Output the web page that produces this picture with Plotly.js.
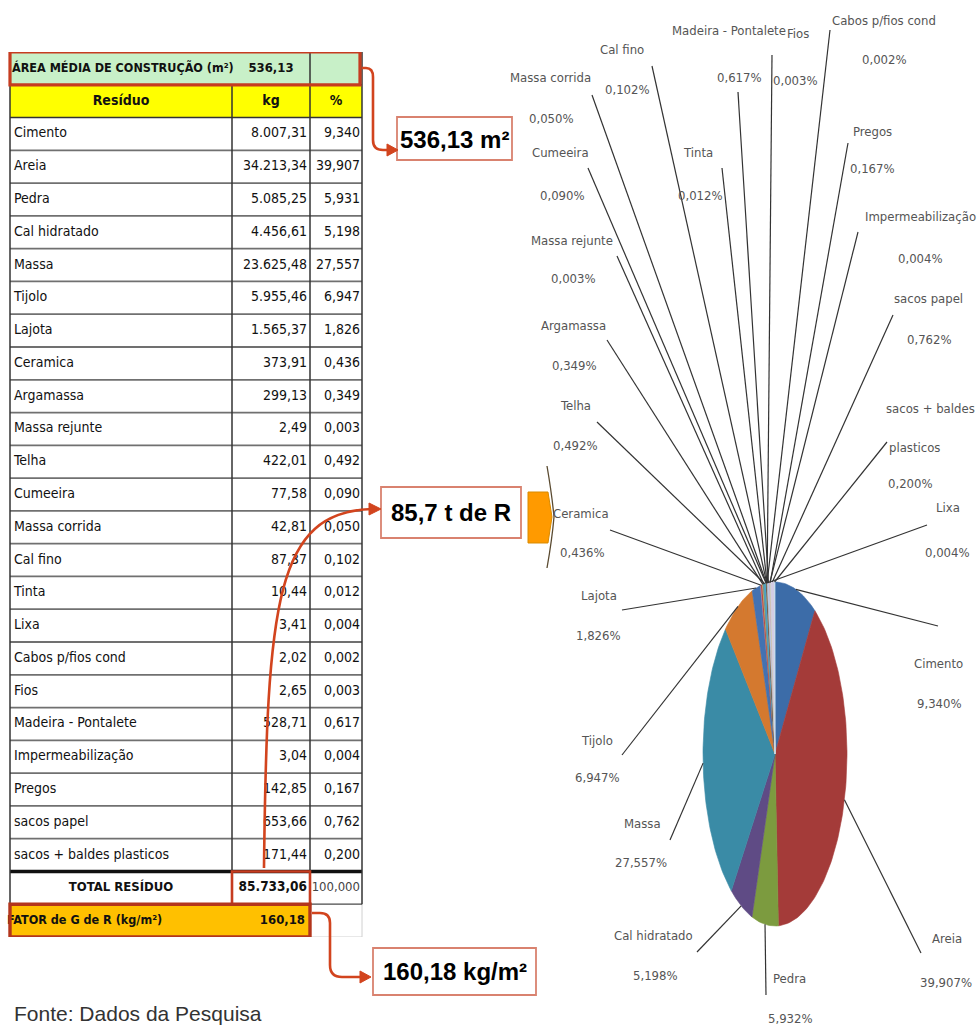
<!DOCTYPE html>
<html><head><meta charset="utf-8">
<script src="https://cdn.plot.ly/plotly-3.0.1.min.js"></script>
<style>html,body{margin:0;padding:0;background:#fff}#chart{width:977px;height:1027px}</style>
</head><body><div id="chart"></div>
<script>
// ---------------- DATA ----------------
const residuos = ['Cimento','Areia','Pedra','Cal hidratado','Massa','Tijolo','Lajota','Ceramica','Argamassa','Massa rejunte','Telha','Cumeeira','Massa corrida','Cal fino','Tinta','Lixa','Cabos p/fios cond','Fios','Madeira - Pontalete','Impermeabilização','Pregos','sacos papel','sacos + baldes plasticos'];
const kg = [8007.31,34213.34,5085.25,4456.61,23625.48,5955.46,1565.37,373.91,299.13,2.49,422.01,77.58,42.81,87.37,10.44,3.41,2.02,2.65,528.71,3.04,142.85,653.66,171.44];
const pct = [9.340,39.907,5.931,5.198,27.557,6.947,1.826,0.436,0.349,0.003,0.492,0.090,0.050,0.102,0.012,0.004,0.002,0.003,0.617,0.004,0.167,0.762,0.200];
const pieLabelPct = [9.340,39.907,5.932,5.198,27.557,6.947,1.826,0.436,0.349,0.003,0.492,0.090,0.050,0.102,0.012,0.004,0.002,0.003,0.617,0.004,0.167,0.762,0.200];
const areaMedia = 536.13;
const totalKg = 85733.06;
const totalPct = 100.000;
const fatorGR = 160.18;
const totalToneladas = 85.7;
const headers = ['Resíduo','kg','%'];

// ---------------- STYLE / LAYOUT ----------------
const W = 977, H = 1027;
const NARROW = '"DejaVu Sans Condensed", "Liberation Sans Narrow", sans-serif';
const SANS = '"Liberation Sans", Arial, sans-serif';
const sliceColors = ['#3c6ca8','#a43b39','#7c9b3f','#5f4b85','#3a8ba6','#d4792f','#4372b2','#b84a48','#94b052','#7d62a0','#4ba3c0','#e8893e','#2c4d75','#772c2a','#5f7530','#4d3b62','#276a7c','#b65708','#b9c6dd','#dca8a7','#c5d6a5','#d3cde4','#c9e3ec'];
// pie ellipse in pixels
const CX = 775, CY = 754, A = 72, B = 172;
// label layout (pixels): [nameX, nameY, pctX, pctY, leaderX, leaderY]
const labelPos = [
 [938,663, 939,703, 938,626],
 [947,938, 946,982, 921,953],
 [789,978, 790,1018, 766,995],
 [653,935, 655,975, 697,952],
 [642,823, 641,862, 670,840],
 [597,740, 597,777, 622,755],
 [599,595, 598,635, 622,610],
 [581,513, 582,552, 610,530],
 [573,325, 574,365, 607,340],
 [572,240, 573,278, 617,256],
 [575,405, 575,445, 597,422],
 [560,153, 562,195, 588,168],
 [550,78, 551,118, 592,95],
 [622,50, 627,89, 652,66],
 [698,153, 700,195, 722,168],
 [948,508, 947,552, 927,525],
 [884,21, 884,60, 830,30],
 [798,33, 795,80, 772,55],
 [729,31, 739,78, 738,92],
 [920,217, 920,258, 858,232],
 [872,132, 872,168, 848,143],
 [928,298, 929,340, 893,315],
 [930,408, 910,483, 887,442]
];
const wrapLine = {22: {at: 14, x: 914, y: 447}};

// table geometry
const TX = [10, 232, 310, 362];
const TTOP = 52, TBOT = 937, NROWS = 27;
const TFS = 14;

// ---------------- HELPERS ----------------
function fmt(v, d){ const s = v.toFixed(d); let [i,f] = s.split('.'); i = i.replace(/\B(?=(\d{3})+(?!\d))/g,'.'); return f ? i+','+f : i; }
const px = x => x / W, py = y => 1 - y / H;
const ux = x => (x - CX) / A, uy = y => (CY - y) / B;

const traces = [];
const shapes = [];
const annotations = [];

// ---------------- TABLE ----------------
const nData = residuos.length;
const rowOf = i => i + 2;
const rowTotal = nData + 2, rowFator = nData + 3;
function rect(x0,x1,r0,r1,fill,lineColor,lw,layer){
  shapes.push({type:'rect', xref:'x', yref:'y', x0:x0, x1:x1, y0:r0, y1:r1,
    fillcolor: fill || 'rgba(0,0,0,0)', line:{color: lineColor || 'rgba(0,0,0,0)', width: lw || 0}, layer: layer || 'above'});
}
function hline(r, x0, x1, color, w){ shapes.push({type:'line', xref:'x', yref:'y', x0:x0, x1:x1, y0:r, y1:r, line:{color:color, width:w}}); }
function vline(x, r0, r1, color, w){ shapes.push({type:'line', xref:'x', yref:'y', x0:x, x1:x, y0:r0, y1:r1, line:{color:color, width:w}}); }
function txt(x, y, text, pos, size, color, clip){
  traces.push({type:'scatter', mode:'text', xaxis:'x', yaxis:'y', x: x, y: y, text: text, textposition: pos,
    textfont:{family:NARROW, size:size, color:color || '#111'}, hoverinfo:'skip', showlegend:false, cliponaxis: !!clip});
}

// fills
rect(TX[0], TX[3], 0, 1, '#c8f0c8', null, 0, 'below');
rect(TX[0], TX[3], 1, 2, '#ffff00', null, 0, 'below');
rect(TX[0], TX[2], rowFator, rowFator+1, '#ffc000', null, 0, 'below');
rect(TX[2], TX[3], rowFator, rowFator+1, '#ffffff', '#d0d0d0', 1, 'below');
// horizontal lines
for (let r = 1; r <= rowTotal; r++) {
  if (r === rowTotal) hline(r, TX[0], TX[3], '#111', 3.5);
  else hline(r, TX[0], TX[3], r <= 2 ? '#333' : '#707070', r <= 2 ? 1.5 : 1.8);
}
hline(rowFator, TX[2], TX[3], '#555', 1.2);
// vertical lines
vline(TX[0], 0, rowFator+1, '#333', 1.5);
vline(TX[1], 1, rowFator, '#333', 1.5);
vline(TX[2], 0, rowFator, '#333', 1.5);
vline(TX[3], 0, rowFator, '#333', 1.5);

// texts
const nameRows = residuos.map((_, i) => rowOf(i) + 0.5);
txt(residuos.map(()=>TX[0]+4), nameRows, residuos, 'middle right', TFS);
txt(kg.map(()=>TX[2]-3), nameRows, kg.map(v => fmt(v,2)), 'middle left', TFS);
txt(pct.map(()=>TX[3]-2), nameRows, pct.map(v => fmt(v,3)), 'middle left', TFS);
txt([(TX[0]+TX[1])/2, (TX[1]+TX[2])/2, (TX[2]+TX[3])/2], [1.5,1.5,1.5], headers.map(h => '<b>'+h+'</b>'), 'middle center', 14);
txt([TX[0]+2], [0.5], ['<b>ÁREA MÉDIA DE CONSTRUÇÃO (m²)</b>'], 'middle right', 12.5);
txt([(TX[1]+TX[2])/2], [0.5], ['<b>'+fmt(areaMedia,2)+'</b>'], 'middle center', 13);
txt([(TX[0]+TX[1])/2], [rowTotal+0.5], ['<b>TOTAL RESÍDUO</b>'], 'middle center', 13);
txt([TX[2]-3], [rowTotal+0.5], ['<b>'+fmt(totalKg,2)+'</b>'], 'middle left', 13.5);
txt([TX[3]-2], [rowTotal+0.5], [fmt(totalPct,3)], 'middle left', 13, '#444');
txt([TX[0]-3], [rowFator+0.5], ['<b>FATOR de G de R (kg/m²)</b>'], 'middle right', 12.5, '#111', true);
txt([TX[2]-5], [rowFator+0.5], ['<b>'+fmt(fatorGR,2)+'</b>'], 'middle left', 13);

// red highlight boxes on table
const RED = '#c63c20';
rect(TX[0], TX[3]-2, 0, 1, null, RED, 3.2);
rect(TX[1], TX[2], rowTotal, rowTotal+1, null, RED, 2.6);
rect(TX[0], TX[2], rowFator, rowFator+1, null, '#b3351c', 3.4);

// ---------------- PIE (ellipse via axis scales) ----------------
const sumKg = kg.reduce((a,b)=>a+b,0);
let cum = 0;
const midPts = [];
kg.forEach((v, i) => {
  const f0 = cum / sumKg, f1 = (cum + v) / sumKg;
  cum += v;
  const n = Math.max(3, Math.ceil((f1 - f0) * 240));
  const xs = [0], ys = [0];
  for (let k = 0; k <= n; k++) {
    const t = 2*Math.PI*(f0 + (f1 - f0)*k/n);
    xs.push(Math.sin(t)); ys.push(Math.cos(t));
  }
  xs.push(0); ys.push(0);
  traces.push({type:'scatter', mode:'lines', xaxis:'x2', yaxis:'y2', x: xs, y: ys, fill:'toself',
    fillcolor: sliceColors[i], line:{color: sliceColors[i], width:0.6}, hoverinfo:'skip', showlegend:false});
  const tm = 2*Math.PI*(f0 + f1)/2;
  midPts.push([Math.sin(tm), Math.cos(tm)]);
});
// leader lines
const lx = [], ly = [];
labelPos.forEach((p, i) => {
  lx.push(midPts[i][0], ux(p[4]), null);
  ly.push(midPts[i][1], uy(p[5]), null);
});
traces.push({type:'scatter', mode:'lines', xaxis:'x2', yaxis:'y2', x: lx, y: ly,
  line:{color:'#333', width:1.2}, hoverinfo:'skip', showlegend:false});

// labels
const LBL = {family: NARROW, size: 13, color: '#555'};
labelPos.forEach((p, i) => {
  let name = residuos[i];
  if (wrapLine[i]) {
    const w = wrapLine[i];
    annotations.push({xref:'paper', yref:'paper', x: px(w.x), y: py(w.y), text: name.slice(w.at+1), showarrow:false, font: LBL, xanchor:'center', yanchor:'middle'});
    name = name.slice(0, w.at);
  }
  annotations.push({xref:'paper', yref:'paper', x: px(p[0]), y: py(p[1]), text: name, showarrow:false, font: LBL, xanchor:'center', yanchor:'middle'});
  annotations.push({xref:'paper', yref:'paper', x: px(p[2]), y: py(p[3]), text: fmt(pieLabelPct[i],3)+'%', showarrow:false, font: LBL, xanchor:'center', yanchor:'middle'});
});

// ---------------- CALLOUT BOXES & ARROWS ----------------
function P(x, y){ return px(x).toFixed(5)+','+py(y).toFixed(5); }
function box(x0, y0, x1, y1, text, cy){
  shapes.push({type:'rect', xref:'paper', yref:'paper', x0:px(x0), x1:px(x1), y0:py(y1), y1:py(y0),
    fillcolor:'#fff', line:{color:'#d9826f', width:1.8}});
  annotations.push({xref:'paper', yref:'paper', x: px((x0+x1)/2), y: py(cy), text:'<b>'+text+'</b>', showarrow:false,
    font:{family:SANS, size:24, color:'#000'}, xanchor:'center', yanchor:'middle'});
}
box(397, 117, 512, 160, fmt(areaMedia,2)+' m²', 139);
box(381, 487, 521, 538, fmt(totalToneladas,1)+' t de R', 512);
box(373, 948, 536, 995, fmt(fatorGR,2)+' kg/m²', 971);

const ARROW = '#d2441e';
function path(d, color, w, fill){
  shapes.push({type:'path', xref:'paper', yref:'paper', path:d, line:{color:color, width:w}, fillcolor: fill || 'rgba(0,0,0,0)'});
}
// arrow 1 (area)
path('M'+P(362,68)+' L'+P(366,68)+' Q'+P(373,68)+' '+P(373,77)+' L'+P(373,140)+' Q'+P(373,150)+' '+P(383,150)+' L'+P(390,150), ARROW, 2.6);
path('M'+P(387,144)+' L'+P(398,150)+' L'+P(387,156)+' Z', ARROW, 1, ARROW);
// arrow 2 (total)
path('M'+P(264,868)+' C'+P(267,600)+' '+P(276,512)+' '+P(372,509), ARROW, 2.6);
path('M'+P(369,503)+' L'+P(381,509)+' L'+P(369,515)+' Z', ARROW, 1, ARROW);
// arrow 3 (fator)
path('M'+P(312,913)+' L'+P(320,913)+' Q'+P(330,913)+' '+P(330,923)+' L'+P(330,965)+' Q'+P(330,977)+' '+P(342,977)+' L'+P(363,977), ARROW, 2.6);
path('M'+P(360,971)+' L'+P(371,977)+' L'+P(360,983)+' Z', ARROW, 1, ARROW);
// orange block arrow
path('M'+P(528,492)+' L'+P(548,492)+' L'+P(552,517)+' L'+P(548,543)+' L'+P(528,543)+' Z', '#d98a00', 1, '#ff9a00');
path('M'+P(547,466)+' Q'+P(552,495)+' '+P(554,517)+' Q'+P(552,540)+' '+P(547,568), '#5a4a30', 1.3);

// source
annotations.push({xref:'paper', yref:'paper', x: px(12), y: py(1013), text:'Fonte: Dados da Pesquisa', showarrow:false,
  font:{family:SANS, size:21, color:'#333'}, xanchor:'left', yanchor:'middle'});

// ---------------- LAYOUT ----------------
const hidden = {visible:false, fixedrange:true, showgrid:false, zeroline:false};
const layout = {
  width: W, height: H,
  margin:{l:0, r:0, t:0, b:0},
  paper_bgcolor:'#fff', plot_bgcolor:'rgba(0,0,0,0)',
  showlegend:false,
  xaxis: Object.assign({}, hidden, {domain:[0,1], range:[0, W]}),
  yaxis: Object.assign({}, hidden, {domain:[1 - TBOT/H, 1 - TTOP/H], range:[NROWS, 0]}),
  xaxis2: Object.assign({}, hidden, {domain:[540/W, 1], range:[ux(540), ux(W)], anchor:'y2'}),
  yaxis2: Object.assign({}, hidden, {domain:[0, 1], range:[uy(H), uy(0)], anchor:'x2'}),
  shapes: shapes,
  annotations: annotations
};
Plotly.newPlot('chart', traces, layout, {staticPlot:true, displayModeBar:false});
</script>
</body></html>
